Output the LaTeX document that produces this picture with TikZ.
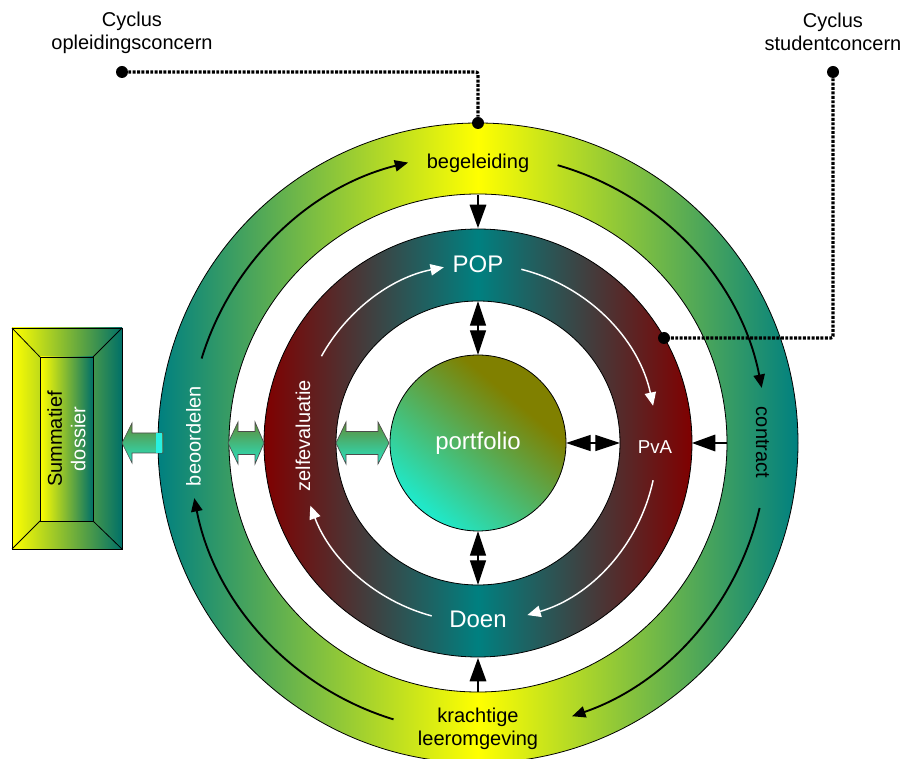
\documentclass[tikz,border=0pt]{standalone}
\usepackage{fontspec}
\setmainfont{Liberation Sans}
\usetikzlibrary{arrows.meta}
\definecolor{ctteal}{RGB}{0,128,128}
\definecolor{cmaroon}{RGB}{128,0,0}
\definecolor{cyel}{RGB}{255,255,0}
\definecolor{colive}{RGB}{128,128,0}
\definecolor{cturq}{RGB}{32,232,200}
\definecolor{boxteal}{RGB}{0,112,104}
\definecolor{barrtop}{RGB}{95,140,55}
\definecolor{barrbot}{RGB}{40,228,195}
\definecolor{cstripe}{RGB}{40,240,225}
\pgfdeclarehorizontalshading{outerring}{100bp}{color(0bp)=(ctteal); color(25bp)=(ctteal); color(50bp)=(cyel); color(75bp)=(ctteal); color(100bp)=(ctteal)}
\pgfdeclarehorizontalshading{midring}{100bp}{color(0bp)=(cmaroon); color(25bp)=(cmaroon); color(50bp)=(ctteal); color(75bp)=(cmaroon); color(100bp)=(cmaroon)}
\pgfdeclareverticalshading{portf}{100bp}{color(0bp)=(cturq); color(26bp)=(cturq); color(66bp)=(colive); color(100bp)=(colive)}
\begin{document}
\begin{tikzpicture}[x=0.75pt,y=0.75pt,
  ringedge/.style={draw=black, line width=0.6pt},
  cycarrow/.style={draw=black, line width=1.4pt, -{Triangle[length=10pt,width=8.5pt]}},
  whitecyc/.style={draw=white, line width=1.1pt, -{Triangle[length=10pt,width=8.5pt]}},
  bigtip/.style={draw=black, line width=0.9pt, -{Triangle[length=17.5pt,width=12.5pt]}},
  dbltip/.style={draw=black, line width=0.9pt, -{Triangle[length=18.5pt,width=12pt]}},
  blockarr/.style={top color=barrtop, bottom color=barrbot, draw=black!70, line width=0.5pt},
  dotline/.style={draw=black, line width=2.3pt, dash pattern=on 2.2pt off 1.1pt, rounded corners=1.5pt},
  dotnode/.style={circle, fill=black, inner sep=0pt, minimum size=9pt},
  lbl/.style={font=\fontsize{15}{17.5}\selectfont, inner sep=0pt, align=center},
  biglbl/.style={font=\fontsize{18}{20}\selectfont, inner sep=0pt, text=white}]
\useasboundingbox (0,0) rectangle (901,758);
\coordinate (C) at (478,315);
% rings
\shade[shading=outerring, even odd rule] (C) circle[radius=320] (C) circle[radius=249];
\draw[ringedge] (C) circle[radius=320] (C) circle[radius=249];
\shade[shading=midring, even odd rule] (C) circle[radius=214] (C) circle[radius=142];
\draw[ringedge] (C) circle[radius=214] (C) circle[radius=142];
\shade[shading=portf, shading angle=-40] (C) circle[radius=88];
\draw[ringedge] (C) circle[radius=88];
% summatief box
\shade[left color=cyel, right color=boxteal] (12,209) rectangle (122,430);
\draw[ringedge] (12,209) rectangle (122,430);
\shade[left color=cyel, right color=boxteal] (40,237) rectangle (93,401);
\draw[ringedge] (40,237) rectangle (93,401);
\draw[ringedge] (12,430)--(40,401) (122,430)--(93,401) (12,209)--(40,237) (122,209)--(93,237);
% block arrows
\path[blockarr] (122,315) -- (132,335) -- (132,325) -- (163,325) -- (163,305) -- (132,305) -- (132,295) -- cycle;
\fill[cstripe] (156,305.4) rectangle (162,324.6);
\path[blockarr] (228,315) -- (238,336) -- (238,326.5) -- (255,326.5) -- (255,336) -- (264,315) -- (255,294) -- (255,303.5) -- (238,303.5) -- (238,294) -- cycle;
\path[blockarr] (336,315) -- (346,336) -- (346,326.5) -- (378,326.5) -- (378,336) -- (389,315) -- (378,294) -- (378,303.5) -- (346,303.5) -- (346,294) -- cycle;
% thin arrows
\coordinate (a1s) at (478,563); \coordinate (a1e) at (478,530);
\coordinate (a2s) at (727,315); \coordinate (a2e) at (692,315);
\coordinate (a3s) at (478,66);  \coordinate (a3e) at (478,100);
\draw[bigtip] (a1s) -- (a1e);
\draw[bigtip] (a2s) -- (a2e);
\draw[bigtip] (a3s) -- (a3e);
\coordinate (m1) at (478,430); \coordinate (m1a) at (478,457); \coordinate (m1b) at (478,403);
\coordinate (m2) at (478,200); \coordinate (m2a) at (478,227); \coordinate (m2b) at (478,173);
\coordinate (m3) at (593,315); \coordinate (m3a) at (620,315); \coordinate (m3b) at (566,315);
\draw[dbltip] (m1) -- (m1a); \draw[dbltip] (m1) -- (m1b);
\draw[dbltip] (m2) -- (m2a); \draw[dbltip] (m2) -- (m2b);
\draw[dbltip] (m3) -- (m3a); \draw[dbltip] (m3) -- (m3b);
% cycle arrows outer
\draw[cycarrow] ([shift={(163:289)}]C) arc[start angle=163, end angle=104, radius=289];
\draw[cycarrow] ([shift={(74:289)}]C) arc[start angle=74, end angle=11, radius=289];
\draw[cycarrow] ([shift={(-13:289)}]C) arc[start angle=-13, end angle=-71, radius=289];
\draw[cycarrow] ([shift={(253:289)}]C) arc[start angle=253, end angle=191, radius=289];
% cycle arrows inner (white)
\draw[whitecyc] ([shift={(151:179)}]C) arc[start angle=151, end angle=101, radius=179];
\draw[whitecyc] ([shift={(76:179)}]C) arc[start angle=76, end angle=12, radius=179];
\draw[whitecyc] ([shift={(-12:179)}]C) arc[start angle=-12, end angle=-74, radius=179];
\draw[whitecyc] ([shift={(255:179)}]C) arc[start angle=255, end angle=200.5, radius=179];
% labels
\node[lbl] (tbeg) at (478,594.7) {begeleiding};
\node[lbl, rotate=-90] (tcon) at (762.5,315.5) {contract};
\node[lbl] (tkra) at (478,29) {krachtige\\leeromgeving};
\node[lbl, rotate=90, text=white] (tbeo) at (193.5,322) {beoordelen};
\node[lbl, rotate=90, text=white] (tzel) at (303,322.2) {zelfevaluatie};
\node[biglbl] (tpop) at (478,493.3) {POP};
\node[lbl, font=\fontsize{14}{16}\selectfont, text=white] (tpva) at (655,310.5) {PvA};
\node[biglbl] (tdoen) at (478,138.5) {Doen};
\node[biglbl] (tport) at (478,314.3) {portfolio};
\node[lbl, rotate=90] (tsum) at (66.5,319) {Summatief\\\textcolor{white}{dossier}};
\node[lbl] (tcyc1) at (132,725) {Cyclus\\opleidingsconcern};
\node[lbl] (tcyc2) at (833,726) {Cyclus\\studentconcern};
% dotted connectors
\node[dotnode] (d1) at (122,686) {};
\node[dotnode] (d2) at (478,635) {};
\node[dotnode] (d3) at (833,686) {};
\node[dotnode] (d4) at (664,420) {};
\draw[dotline] (d1) -| (d2);
\draw[dotline] (d3) |- (d4);
\end{tikzpicture}
\end{document}
